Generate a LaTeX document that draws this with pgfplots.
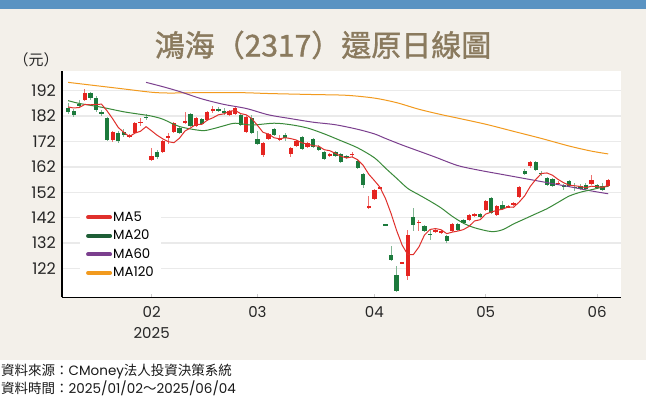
\documentclass[border=0pt]{standalone}
\usepackage{pgfplots}
\pgfplotsset{compat=1.18}
\usepackage{pgfplotstable}
\usepackage{fontspec}
\setmainfont{Poppins}
\newfontfamily\cjk{Noto Sans CJK TC}
\newfontfamily\cjkt[FakeBold=1.2]{Noto Sans CJK TC}
\definecolor{bgbeige}{HTML}{F3F0EA}
\definecolor{topblue}{HTML}{5A93C2}
\definecolor{titlec}{HTML}{8A7A5E}
\definecolor{cred}{HTML}{E52420}
\definecolor{cgreen}{HTML}{1C7A3C}
\definecolor{ma5}{HTML}{E0302C}
\definecolor{ma20}{HTML}{3A8A3A}
\definecolor{ma20l}{HTML}{1E5E36}
\definecolor{ma60}{HTML}{7B3F8E}
\definecolor{ma120}{HTML}{F29A1E}
\definecolor{gridc}{HTML}{EAEAEA}

\pgfplotstableread{
i o h l c
3 188.4 192.5 187.8 191.2
8 172.5 176.2 171.8 175.8
11 173.9 175.0 173.2 174.6
12 175.5 179.6 175.0 179.2
13 179.4 181.2 178.0 179.6
15 164.8 169.4 164.3 166.3
17 168.0 172.5 167.6 172.2
18 173.7 175.3 171.0 174.0
19 175.9 179.6 175.5 179.2
21 179.3 183.5 178.8 180.1
23 178.2 181.6 177.8 181.2
25 180.5 184.1 180.1 183.7
26 184.0 186.0 183.2 184.7
29 182.4 184.6 182.0 184.1
30 182.7 185.6 182.3 185.1
32 175.9 182.3 175.5 181.8
35 166.5 171.8 166.0 171.4
36 172.9 175.3 172.5 174.9
38 172.4 174.6 172.0 173.3
40 167.0 170.0 165.8 169.6
41 170.3 172.5 169.8 172.0
43 169.8 171.7 169.4 171.3
47 166.3 167.4 165.9 167.0
51 166.8 168.0 165.8 167.0
54 145.8 150.4 145.4 146.7
55 149.3 153.4 148.9 153.0
56 153.7 154.3 153.3 153.9
60 124.2 124.2 124.2 124.2
61 118.9 137.3 117.6 135.3
63 140.1 141.0 136.6 140.4
66 136.2 137.4 135.8 137.0
67 136.0 137.3 135.6 136.9
69 136.6 140.0 136.2 139.6
72 140.9 143.6 140.5 143.2
73 142.5 143.8 142.1 143.4
75 145.1 148.8 144.7 148.4
77 143.2 147.1 142.8 146.7
79 146.0 147.1 145.6 146.7
80 147.1 148.2 146.7 147.8
81 150.0 154.3 149.6 153.9
83 162.5 164.3 161.5 163.9
88 155.5 156.5 154.8 155.7
94 155.3 158.9 154.9 156.9
97 154.3 157.3 153.9 156.9
}\upT

\pgfplotstableread{
i o h l c
0 185.3 187.2 182.8 183.6
1 184.1 184.8 181.6 182.3
2 186.6 188.5 185.0 185.9
4 191.0 191.5 188.5 189.3
5 189.3 190.0 183.8 184.4
6 183.7 184.5 182.0 182.7
7 181.2 181.8 172.0 172.6
9 175.4 176.0 171.6 172.2
10 175.8 177.0 173.8 174.6
14 181.8 182.8 180.4 181.2
16 167.9 168.5 165.2 165.9
20 177.2 177.6 174.8 175.3
22 182.7 183.2 177.8 178.2
24 180.9 181.4 178.5 178.9
27 184.7 185.5 183.6 184.1
28 184.1 185.0 182.6 183.1
31 182.5 183.0 178.0 178.5
33 181.2 182.5 175.0 175.3
34 173.0 176.2 170.6 171.1
37 176.8 177.2 174.2 174.6
39 174.6 175.5 172.0 173.3
42 173.9 174.3 168.6 169.0
44 173.1 173.5 169.3 169.7
45 170.0 170.5 168.3 168.8
46 168.0 168.4 164.6 165.0
48 167.8 168.2 165.7 166.1
49 167.0 167.4 163.7 164.1
50 166.3 166.8 165.0 165.4
52 164.5 164.9 161.1 161.5
53 159.2 159.6 153.6 154.9
57 139.2 139.2 139.2 139.2
58 127.4 131.0 125.0 125.4
59 119.2 122.8 112.6 113.0
62 142.1 145.8 136.6 139.2
64 138.6 139.0 136.2 136.6
65 135.5 137.3 133.3 135.2
68 134.9 135.3 132.1 132.7
70 139.6 140.0 136.9 137.3
71 141.2 141.6 139.5 139.9
74 143.4 144.0 141.7 142.1
76 149.7 150.1 143.4 143.8
78 147.1 148.5 145.0 145.4
82 160.4 161.2 158.7 159.1
84 163.9 164.3 160.2 160.6
85 159.6 160.5 158.4 159.4
86 157.6 158.0 154.6 155.0
87 157.4 157.8 154.2 154.6
89 154.7 155.1 153.0 154.0
90 156.5 156.9 154.2 154.6
91 154.0 155.5 152.3 153.8
92 154.6 155.3 152.9 153.3
93 154.9 155.6 152.9 153.3
95 154.9 155.3 153.2 153.6
96 154.3 155.8 152.3 152.7
}\downT

\begin{document}
\begin{tikzpicture}[x=1pt,y=1pt]
\useasboundingbox (0,0) rectangle (646,398);
\fill[white] (0,0) rectangle (646,398);
\fill[bgbeige] (0,38) rectangle (646,398);
\fill[topblue] (0,389) rectangle (646,398);
\node[font=\cjkt\fontsize{30}{36}\selectfont, text=titlec] at (323,353) {鴻海（2317）還原日線圖};
\node[font=\cjk\fontsize{15}{18}\selectfont, text=black!85] at (36,338) {（元）};
\node[anchor=west, inner sep=0pt, font=\fontsize{13.5}{16}\selectfont, text=black!90] at (1,26) {{\cjk 資料來源：}CMoney{\cjk 法人投資決策系統}};
\node[anchor=west, inner sep=0pt, font=\fontsize{13.5}{16}\selectfont, text=black!90] at (1,10) {{\cjk 資料時間：}2025/01/02{\cjk ～}2025/06/04};

\begin{axis}[
  at={(62pt,100.7pt)}, anchor=south west,
  width=559pt, height=226.6pt, scale only axis,
  xmin=-1.1, xmax=99.3, ymin=110.6, ymax=199.9,
  axis x line*=bottom, axis y line*=left,
  axis line style={line width=1.3pt, black},
  axis background/.style={fill=white},
  ytick={122,132,142,152,162,172,182,192},
  yticklabels={122,132,142,152,162,172,182,192},
  xtick={15,34,55,75,95},
  xticklabels={{02\\2025},03,04,05,06},
  ytick style={draw=none},
  xtick style={draw=gray!40, line width=0.8pt},
  tick align=inside, major tick length=3pt,
  yticklabel style={font=\fontsize{16}{19}\selectfont, text=black!85, inner sep=0pt, anchor=east, xshift=-6pt},
  xticklabel style={font=\fontsize{15}{20.5}\selectfont, text=black!85, inner sep=0pt, anchor=north, align=center, yshift=-9pt},
  ymajorgrids, major grid style={draw=gridc, line width=1.3pt},
  legend style={at={(0.032,0.06)}, anchor=south west, fill=white, draw=none,
    inner xsep=6pt, inner ysep=4pt, font=\fontsize{13.3}{15}\selectfont, row sep=5.2pt,
    nodes={inner sep=1pt}},
  legend cell align=left,
  legend image code/.code={\draw[#1, line cap=round] (0pt,0pt) -- (22pt,0pt);},
  candle/.style={draw=none, mark=none, forget plot},
]
% wicks
\addplot[candle, error bars/.cd, y dir=both, y explicit, error mark=none,
  error bar style={line width=0.9pt, draw=cred!65}]
  table[x=i, y expr={(\thisrow{h}+\thisrow{l})/2}, y error expr={(\thisrow{h}-\thisrow{l})/2}] {\upT};
\addplot[candle, error bars/.cd, y dir=both, y explicit, error mark=none,
  error bar style={line width=0.9pt, draw=cgreen!55}]
  table[x=i, y expr={(\thisrow{h}+\thisrow{l})/2}, y error expr={(\thisrow{h}-\thisrow{l})/2}] {\downT};
% bodies
\addplot[candle, error bars/.cd, y dir=both, y explicit, error mark=none,
  error bar style={line width=4.3pt, draw=cred}]
  table[x=i, y expr={(\thisrow{o}+\thisrow{c})/2}, y error expr={max(abs(\thisrow{c}-\thisrow{o})/2,0.2)}] {\upT};
\addplot[candle, error bars/.cd, y dir=both, y explicit, error mark=none,
  error bar style={line width=4.3pt, draw=cgreen}]
  table[x=i, y expr={(\thisrow{o}+\thisrow{c})/2}, y error expr={max(abs(\thisrow{c}-\thisrow{o})/2,0.2)}] {\downT};

% MA120
\addplot[ma120, line width=1.0pt, smooth, forget plot] coordinates {
(0,195.3) (5,194.0) (10,192.7) (15,191.4) (18,191.1) (22,191.2) (27,191.3) (32,191.2) (36,190.9)
(44,190.5) (50,190.2) (55,189.1) (59,187.3) (63,184.7) (67,182.6) (70,181.2) (75,178.8) (80,176.0)
(85,173.2) (90,170.2) (94,168.2) (97,167.1)};
% MA60
\addplot[ma60, line width=1.0pt, smooth, forget plot] coordinates {
(14,195.3) (17,193.6) (20,191.7) (24,188.8) (28,186.6) (32,185.0) (36,182.5) (40,181.0) (44,179.6)
(48,178.6) (52,176.8) (55,175.0) (57,173.2) (60,170.6) (63,168.2) (66,165.8) (70,162.5) (74,160.6)
(78,159.0) (82,157.4) (86,155.8) (90,154.2) (94,152.5) (97,151.4)};
% MA20
\addplot[ma20, line width=1.0pt, smooth, forget plot] coordinates {
(0,188.1) (2,187.0) (6,185.5) (10,183.7) (13,182.7) (15,182.0) (17,180.8) (20,177.9) (24,176.3)
(26,177.0) (28,178.2) (30,179.2) (33,178.5) (37,179.2) (40,178.6) (43,177.3) (46,175.0) (49,172.3)
(52,169.5) (55,165.6) (57,161.5) (59,157.5) (61,153.5) (63,151.0) (65,148.5) (67,145.8) (69,142.5)
(71,139.8) (73,138.0) (76,136.5) (78,137.2) (80,139.5) (82,141.5) (84,143.5) (86,145.5) (88,148.0)
(90,150.5) (92,152.0) (94,153.0) (96,154.0) (97,154.3)};
% MA5
\addplot[ma5, line width=1.0pt, forget plot] coordinates {
(0,185.6) (1,185.2) (2,185.4) (3,186.6) (4,186.46) (5,186.62) (6,186.70) (7,184.04) (8,180.96)
(9,177.54) (10,175.58) (11,173.96) (12,175.28) (13,176.04) (14,177.84) (15,176.18) (16,174.44)
(17,173.04) (18,171.92) (19,171.52) (20,173.32) (21,176.16) (22,177.36) (23,178.80) (24,178.74)
(25,180.42) (26,181.34) (27,182.52) (28,182.90) (29,183.94) (30,184.22) (31,182.98) (32,182.52)
(33,180.96) (34,178.36) (35,175.62) (36,174.90) (37,173.46) (38,173.06) (39,173.50) (40,173.14)
(41,172.56) (42,171.44) (43,171.04) (44,170.32) (45,170.16) (46,168.76) (47,168.36) (48,167.32)
(49,166.20) (50,165.52) (51,165.92) (52,164.82) (53,162.58) (54,159.10) (55,156.62) (56,154.00)
(57,149.54) (58,143.64) (59,136.90) (60,131.14) (61,127.42) (62,127.42) (63,130.42) (64,135.14)
(65,137.34) (66,137.68) (67,137.22) (68,135.68) (69,136.28) (70,136.70) (71,137.28) (72,138.54)
(73,140.68) (74,141.18) (75,143.40) (76,144.18) (77,144.88) (78,145.28) (79,146.20) (80,146.08)
(81,148.10) (82,150.58) (83,154.28) (84,157.06) (85,159.38) (86,159.60) (87,158.70) (88,157.06)
(89,155.74) (90,154.78) (91,154.54) (92,154.28) (93,153.80) (94,154.38) (95,154.18) (96,153.96)
(97,154.68)};

\addlegendimage{line width=4pt, color=ma5}
\addlegendentry{MA5}
\addlegendimage{line width=4pt, color=ma20l}
\addlegendentry{MA20}
\addlegendimage{line width=4pt, color=ma60}
\addlegendentry{MA60}
\addlegendimage{line width=4pt, color=ma120}
\addlegendentry{MA120}
\end{axis}
\end{tikzpicture}
\end{document}
